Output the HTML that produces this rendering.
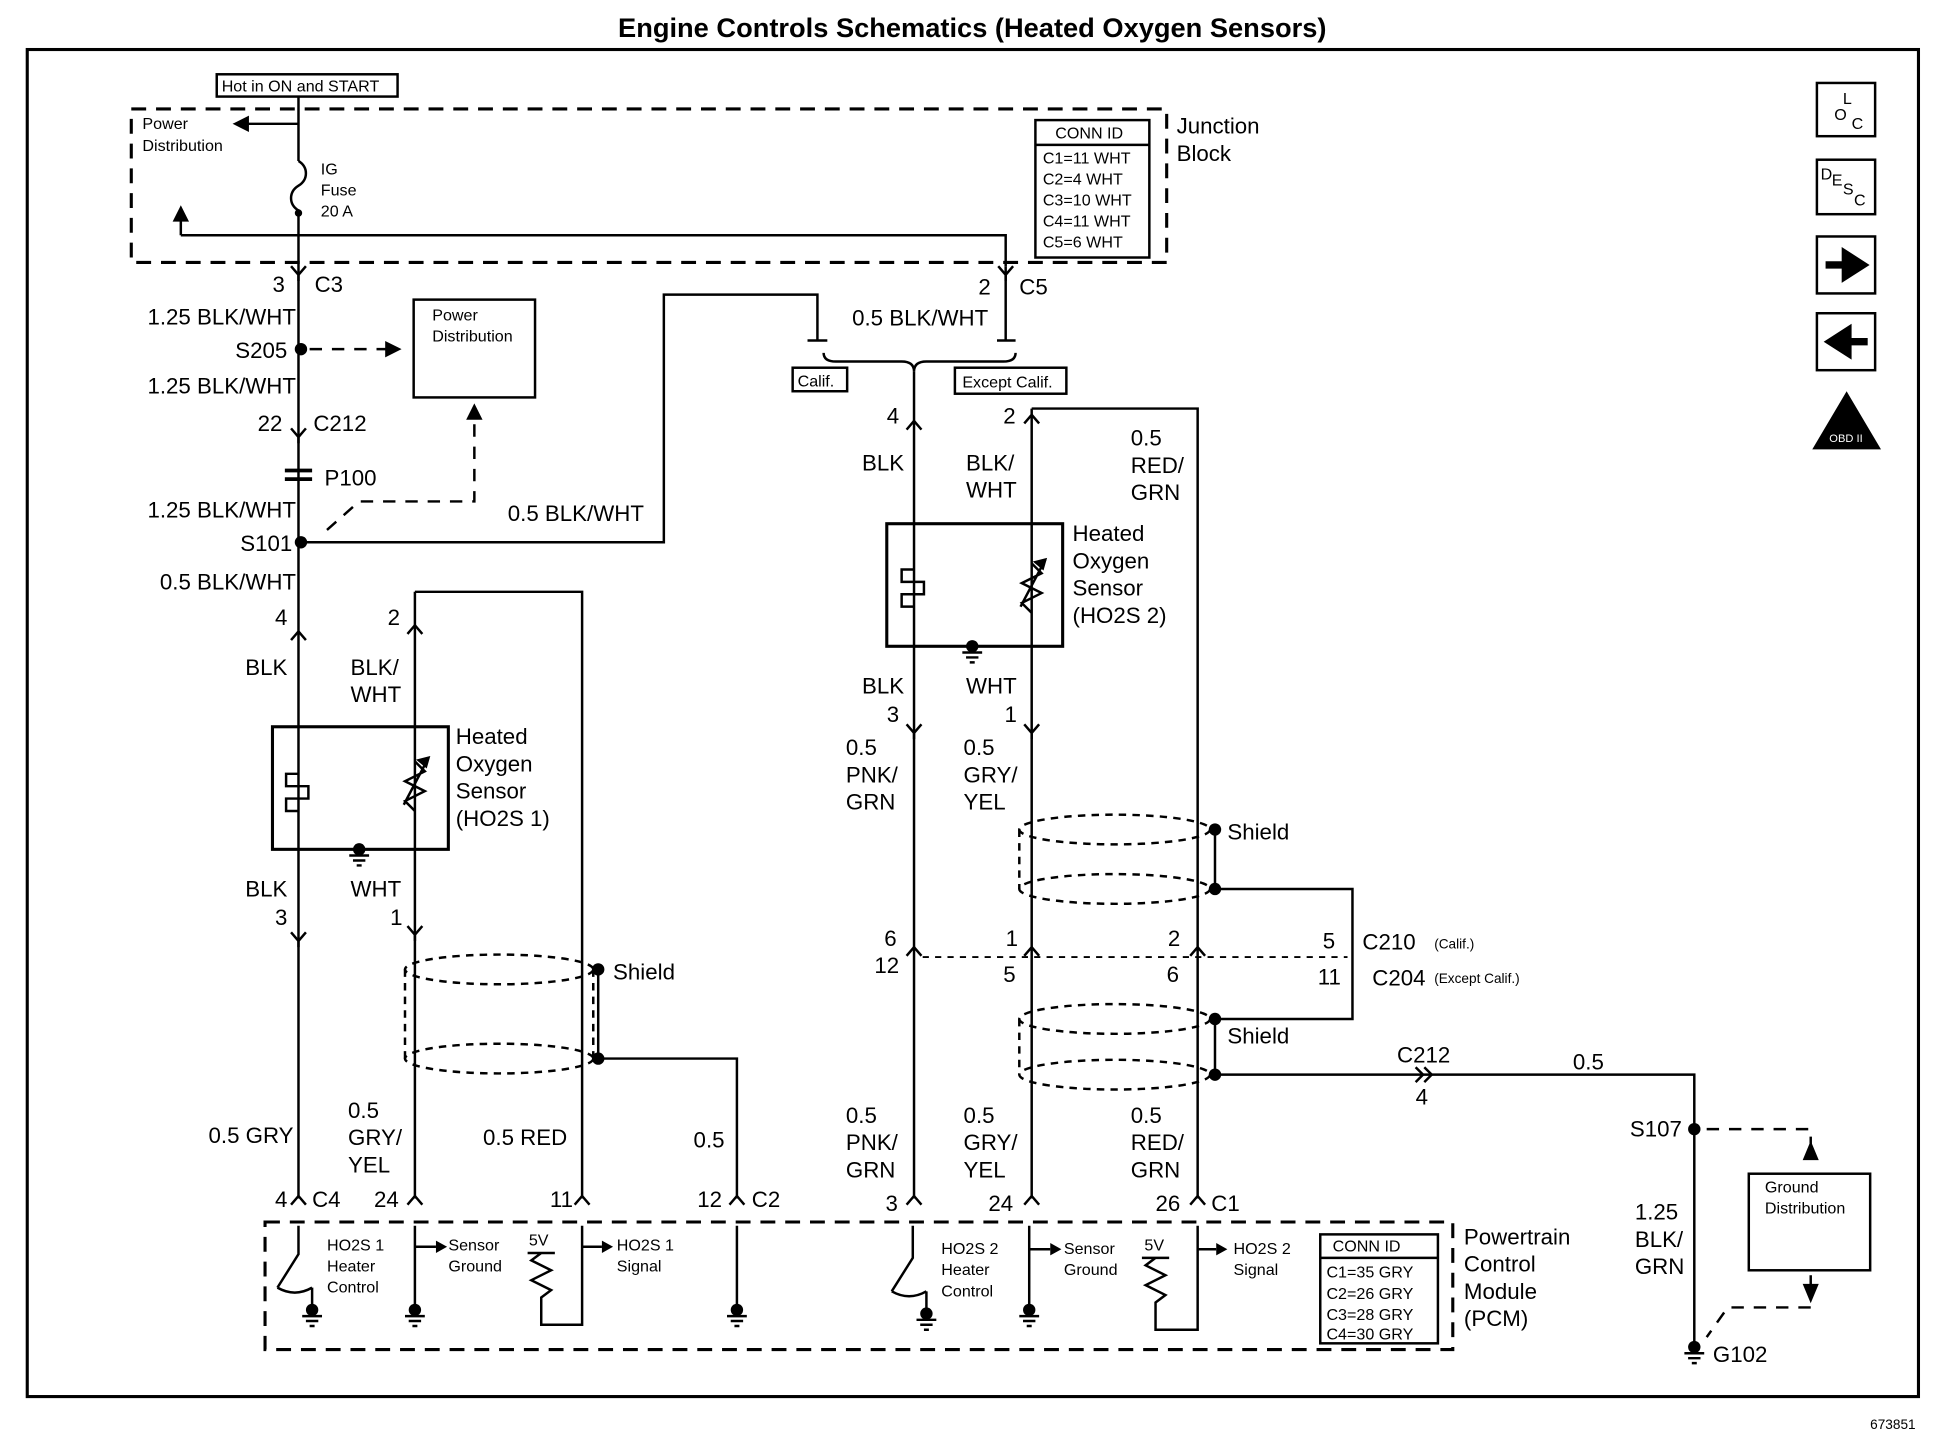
<!DOCTYPE html>
<html><head><meta charset="utf-8"><style>
html,body{margin:0;padding:0;background:#fff}
svg{display:block}
text{font-family:"Liberation Sans",sans-serif;fill:#000}
.l{font-size:18px}
.s{font-size:13px}
.t{font-size:11px}
</style></head><body>
<svg width="1942" height="1456" viewBox="0 0 1568 1176" preserveAspectRatio="none" xmlns="http://www.w3.org/2000/svg">
<defs>
<g id="cn"><path d="M-6,-7 L0,0 L6,-7 M0,0 L0,5" fill="none" stroke="#000" stroke-width="2"/></g>
<g id="cu"><path d="M-6,7 L0,0 L6,7" fill="none" stroke="#000" stroke-width="2"/></g>
<g id="gnd"><circle cx="0" cy="0" r="5" fill="#000"/><path d="M-8,5 H8 M-5,9 H5 M-2,13 H2" stroke="#000" stroke-width="2"/></g>
</defs>
<g stroke="#000" fill="none" stroke-width="2">
<rect x="22" y="40" width="1527" height="1088" stroke-width="2.5"/>
<rect x="106" y="88" width="836" height="124" stroke-dasharray="12,8" stroke-width="2.5"/>
<rect x="175" y="60" width="146" height="18"/>
<path d="M241,78 V130 M241,100 H190 M241,130 c8,5 8,15 0,20 c-8,5 -8,15 0,20 M241,170 V225 M146,190 H812 V215 M146,190 V170"/>
<path d="M190,100 l10,-5 v10z M146,168 l-5,10 h10z" fill="#000"/>
<rect x="836" y="97" width="92" height="111"/>
<path d="M836,117 H928"/>
<rect x="1467" y="67" width="47" height="43"/>
<rect x="1467" y="129" width="47" height="44"/>
<rect x="1467" y="191" width="47" height="46"/>
<rect x="1467" y="253" width="47" height="46"/>
<path d="M1491,318 L1517,362 H1465 Z" fill="#000"/>
<path d="M241,225 V968"/>
<path d="M250,282 H322" stroke-dasharray="10,8"/>
<path d="M322,282 l-10,-5 v10z" fill="#000"/>
<rect x="334" y="242" width="98" height="79"/>
<path d="M264,428 L290,405 H383 V336" stroke-dasharray="10,8"/>
<path d="M383,328 l-5,10 h10z" fill="#000"/>
<path d="M230,380 h22 M230,387 h22" stroke-width="3"/>
<path d="M241,438 H536 V238 H660 V275 M652,275 H668"/>
<rect x="220" y="587" width="142" height="99" stroke-width="2.5"/>
<path d="M241,625 H231 V635 H249 V645 H231 V655 H241" />
<path d="M335,478 H470 V968 M335,478 V968"/>
<path d="M335,615 l8,8 l-16,8 l16,8 l-16,8 l8,8 M326,650 L346,612"/>
<path d="M346,612 l-8,2 l6,5z" fill="#000"/>
<ellipse cx="403" cy="783" rx="76" ry="12" stroke-dasharray="6,5"/>
<ellipse cx="403" cy="855" rx="76" ry="12" stroke-dasharray="6,5"/>
<path d="M327,783 V855 M479,783 V855" stroke-dasharray="6,5"/>
<path d="M483,783 V855 H595 V968"/>
<path d="M812,215 V275 M805,275 H820"/>
<path d="M665,285 Q665,292 675,292 H728 Q738,292 738,300 Q738,292 748,292 H810 Q820,292 820,285"/>
<rect x="640" y="297" width="44" height="19"/>
<rect x="771" y="297" width="90" height="21"/>
<path d="M738,300 V968 M833,330 V968 M833,330 H967 V968"/>
<rect x="716" y="423" width="142" height="99" stroke-width="2.5"/>
<path d="M738,460 H728 V470 H746 V480 H728 V490 H738"/>
<path d="M833,455 l8,8 l-16,8 l16,8 l-16,8 l8,8 M824,490 L844,452"/>
<path d="M844,452 l-8,2 l6,5z" fill="#000"/>
<ellipse cx="900" cy="670" rx="77" ry="12" stroke-dasharray="6,5"/>
<ellipse cx="900" cy="718" rx="77" ry="12" stroke-dasharray="6,5"/>
<path d="M823,670 V718" stroke-dasharray="6,5"/>
<path d="M981,670 V718 H1092 V823 H981"/>
<path d="M745,773 H1088" stroke-dasharray="5,5" stroke-width="1.5"/>
<ellipse cx="900" cy="823" rx="77" ry="12" stroke-dasharray="6,5"/>
<ellipse cx="900" cy="868" rx="77" ry="12" stroke-dasharray="6,5"/>
<path d="M823,823 V868" stroke-dasharray="6,5"/>
<path d="M981,823 V868 H1368 V1085"/>
<path d="M1143,862 l6,6 l-6,6 M1150,862 l6,6 l-6,6"/>
<path d="M1378,912 H1462 V930" stroke-dasharray="10,8"/>
<path d="M1462,924 l-5,12 h10z" fill="#000"/>
<rect x="1412" y="948" width="98" height="78"/>
<path d="M1462,1030 V1046" stroke-dasharray="10,8"/>
<path d="M1462,1050 l-5,-12 h10z" fill="#000"/>
<path d="M1462,1056 H1395 L1378,1080" stroke-dasharray="10,8"/>
<rect x="214" y="987" width="959" height="103" stroke-dasharray="12,8" stroke-width="2.5"/>
<rect x="1066" y="997" width="95" height="88"/>
<path d="M1066,1016 H1161"/>
<path d="M241,990 V1013 L224,1040 M252,1040 V1058 M224,1040 Q238,1048 252,1040" />
<path d="M737,990 V1016 L720,1043 M748,1043 V1061 M720,1043 Q734,1051 748,1043"/>
<path d="M335,990 V1058 M335,1007 H352 M470,990 V1070 H437 V1048 l8,-6 l-16,-8 l16,-8 l-16,-8 l8,-6 V1012 M426,1012 H448 M470,1007 H486 M595,990 V1058"/>
<path d="M831,990 V1058 M831,1009 H848 M967,990 V1074 H933 V1052 l8,-6 l-16,-8 l16,-8 l-16,-8 l8,-6 V1016 M922,1016 H944 M967,1009 H982"/>
</g>
<g fill="#000">
<path d="M352,1002 l9,5 l-9,5z M486,1002 l9,5 l-9,5z M848,1004 l9,5 l-9,5z M982,1004 l9,5 l-9,5z"/>
<circle cx="243" cy="282" r="5"/><circle cx="243" cy="438" r="5"/>
<circle cx="483" cy="783" r="5"/><circle cx="483" cy="855" r="5"/>
<circle cx="981" cy="670" r="5"/><circle cx="981" cy="718" r="5"/>
<circle cx="981" cy="823" r="5"/><circle cx="981" cy="868" r="5"/>
<circle cx="1368" cy="912" r="5"/><circle cx="241" cy="172" r="3"/>
<path d="M1474,214 h16 v-9 l14,9 l-14,9 v-9" stroke="#000" stroke-width="6"/>
<path d="M1508,276 h-16 v-9 l-14,9 l14,9 v-9" stroke="#000" stroke-width="6"/>
</g>
<use href="#cn" x="241" y="222"/><use href="#cn" x="812" y="222"/>
<use href="#cn" x="241" y="353"/><use href="#cn" x="241" y="760"/><use href="#cn" x="335" y="755"/>
<use href="#cu" x="241" y="510"/><use href="#cu" x="335" y="505"/>
<use href="#cu" x="738" y="340"/><use href="#cu" x="833" y="335"/>
<use href="#cn" x="738" y="592"/><use href="#cn" x="833" y="592"/>
<use href="#cu" x="738" y="765"/><use href="#cu" x="833" y="765"/><use href="#cu" x="967" y="765"/>
<use href="#cu" x="241" y="966"/><use href="#cu" x="335" y="966"/><use href="#cu" x="470" y="966"/><use href="#cu" x="595" y="966"/>
<use href="#cu" x="738" y="966"/><use href="#cu" x="833" y="966"/><use href="#cu" x="967" y="966"/>
<use href="#gnd" x="290" y="686"/><use href="#gnd" x="785" y="522"/>
<use href="#gnd" x="252" y="1058"/><use href="#gnd" x="335" y="1058"/><use href="#gnd" x="595" y="1058"/>
<use href="#gnd" x="748" y="1061"/><use href="#gnd" x="831" y="1058"/><use href="#gnd" x="1368" y="1088"/>

<text x="785" y="30" text-anchor="middle" font-size="22" font-weight="bold">Engine Controls Schematics (Heated Oxygen Sensors)</text>
<text class="t" x="1510" y="1154">673851</text>
<text class="s" x="179" y="74">Hot in ON and START</text>
<text class="s" x="115" y="104">Power</text><text class="s" x="115" y="122">Distribution</text>
<text class="s" x="259" y="141">IG</text><text class="s" x="259" y="158">Fuse</text><text class="s" x="259" y="175">20 A</text>
<text class="s" x="852" y="112">CONN ID</text>
<text class="s" x="842" y="132">C1=11 WHT</text><text class="s" x="842" y="149">C2=4 WHT</text><text class="s" x="842" y="166">C3=10 WHT</text><text class="s" x="842" y="183">C4=11 WHT</text><text class="s" x="842" y="200">C5=6 WHT</text>
<text class="l" x="950" y="108">Junction</text><text class="l" x="950" y="130">Block</text>
<text class="s" x="1488" y="84">L</text><text class="s" x="1481" y="97" font-size="14">O</text><text class="s" x="1495" y="104">C</text>
<text class="s" x="1470" y="145">D</text><text class="s" x="1479" y="150">E</text><text class="s" x="1488" y="157">S</text><text class="s" x="1497" y="166">C</text>
<text x="1477" y="357" font-size="9" style="fill:#fff">OBD II</text>
<g class="l" text-anchor="end">
<text x="239" y="262">1.25 BLK/WHT</text><text x="232" y="289">S205</text><text x="239" y="318">1.25 BLK/WHT</text>
<text x="239" y="418">1.25 BLK/WHT</text><text x="236" y="445">S101</text><text x="239" y="476">0.5 BLK/WHT</text>
<text x="237" y="923">0.5 GRY</text>
</g>
<g class="l">
<text x="220" y="236">3</text><text x="254" y="236">C3</text>
<text x="208" y="348">22</text><text x="253" y="348">C212</text>
<text x="262" y="392">P100</text>
<text x="410" y="421">0.5 BLK/WHT</text>
<text x="222" y="505">4</text><text x="198" y="545">BLK</text>
<text x="313" y="505">2</text><text x="283" y="545">BLK/</text><text x="283" y="567">WHT</text>
<text x="368" y="601">Heated</text><text x="368" y="623">Oxygen</text><text x="368" y="645">Sensor</text><text x="368" y="667">(HO2S 1)</text>
<text x="198" y="724">BLK</text><text x="222" y="747">3</text>
<text x="283" y="724">WHT</text><text x="315" y="747">1</text>
<text x="495" y="791">Shield</text>
<text x="281" y="903">0.5</text><text x="281" y="925">GRY/</text><text x="281" y="947">YEL</text>
<text x="390" y="925">0.5 RED</text><text x="560" y="927">0.5</text>
<text x="222" y="975">4</text><text x="252" y="975">C4</text><text x="302" y="975">24</text><text x="444" y="975">11</text><text x="563" y="975">12</text><text x="607" y="975">C2</text>
<text x="790" y="238">2</text><text x="823" y="238">C5</text>
<text x="688" y="263">0.5 BLK/WHT</text>
<text x="716" y="342">4</text><text x="810" y="342">2</text>
<text x="696" y="380">BLK</text><text x="780" y="380">BLK/</text><text x="780" y="402">WHT</text>
<text x="913" y="360">0.5</text><text x="913" y="382">RED/</text><text x="913" y="404">GRN</text>
<text x="866" y="437">Heated</text><text x="866" y="459">Oxygen</text><text x="866" y="481">Sensor</text><text x="866" y="503">(HO2S 2)</text>
<text x="696" y="560">BLK</text><text x="780" y="560">WHT</text>
<text x="716" y="583">3</text><text x="811" y="583">1</text>
<text x="683" y="610">0.5</text><text x="683" y="632">PNK/</text><text x="683" y="654">GRN</text>
<text x="778" y="610">0.5</text><text x="778" y="632">GRY/</text><text x="778" y="654">YEL</text>
<text x="991" y="678">Shield</text><text x="991" y="843">Shield</text>
<text x="714" y="764">6</text><text x="706" y="786">12</text><text x="812" y="764">1</text><text x="810" y="793">5</text>
<text x="943" y="764">2</text><text x="942" y="793">6</text>
<text x="1068" y="766">5</text><text x="1100" y="767">C210</text><text x="1064" y="795">11</text><text x="1108" y="796">C204</text>
<text x="1128" y="858">C212</text><text x="1143" y="892">4</text><text x="1270" y="864">0.5</text>
<text x="1316" y="918">S107</text>
<text x="1320" y="985">1.25</text><text x="1320" y="1007">BLK/</text><text x="1320" y="1029">GRN</text>
<text x="1383" y="1100">G102</text>
<text x="683" y="907">0.5</text><text x="683" y="929">PNK/</text><text x="683" y="951">GRN</text>
<text x="778" y="907">0.5</text><text x="778" y="929">GRY/</text><text x="778" y="951">YEL</text>
<text x="913" y="907">0.5</text><text x="913" y="929">RED/</text><text x="913" y="951">GRN</text>
<text x="715" y="978">3</text><text x="798" y="978">24</text><text x="933" y="978">26</text><text x="978" y="978">C1</text>
<text x="1182" y="1005">Powertrain</text><text x="1182" y="1027">Control</text><text x="1182" y="1049">Module</text><text x="1182" y="1071">(PCM)</text>
</g>
<g class="s">
<text x="349" y="259">Power</text><text x="349" y="276">Distribution</text>
<text x="644" y="312">Calif.</text><text x="777" y="313">Except Calif.</text>
<text x="1158" y="766" font-size="11">(Calif.)</text><text x="1158" y="794" font-size="11">(Except Calif.)</text>
<text x="1425" y="963">Ground</text><text x="1425" y="980">Distribution</text>
<text x="264" y="1010">HO2S 1</text><text x="264" y="1027">Heater</text><text x="264" y="1044">Control</text>
<text x="362" y="1010">Sensor</text><text x="362" y="1027">Ground</text><text x="427" y="1006">5V</text>
<text x="498" y="1010">HO2S 1</text><text x="498" y="1027">Signal</text>
<text x="760" y="1013">HO2S 2</text><text x="760" y="1030">Heater</text><text x="760" y="1047">Control</text>
<text x="859" y="1013">Sensor</text><text x="859" y="1030">Ground</text><text x="924" y="1010">5V</text>
<text x="996" y="1013">HO2S 2</text><text x="996" y="1030">Signal</text>
<text x="1076" y="1011">CONN ID</text>
<text x="1071" y="1032">C1=35 GRY</text><text x="1071" y="1049">C2=26 GRY</text><text x="1071" y="1066">C3=28 GRY</text><text x="1071" y="1082">C4=30 GRY</text>
</g>
</svg>
</body></html>
